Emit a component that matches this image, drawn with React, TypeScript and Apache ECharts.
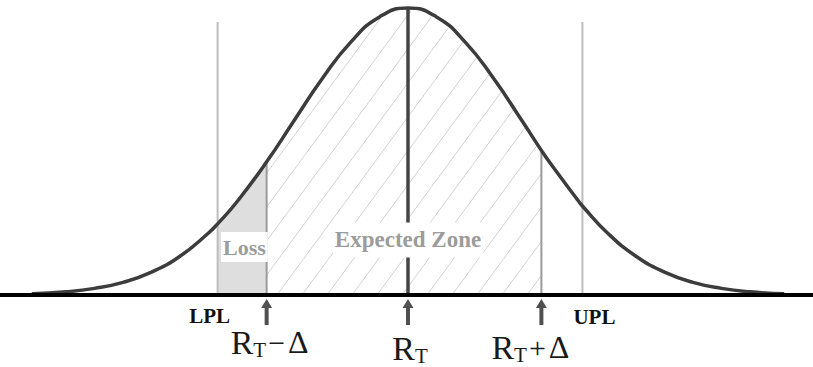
import React, { useEffect, useRef } from "react";
import * as echarts from "echarts";

// Normal curve: x in σ units from the target R_T, y relative to the peak
const curveX = [-3.3, -3.0, -2.75, -2.5, -2.25, -2.0, -1.75, -1.67, -1.5, -1.24, -1.0, -0.75, -0.5, -0.25, 0, 0.25, 0.5, 0.75, 1.0, 1.17, 1.25, 1.5, 1.53, 1.75, 2.0, 2.25, 2.5, 2.75, 3.0, 3.3];
const curveY = [0.004, 0.011, 0.023, 0.044, 0.08, 0.135, 0.216, 0.248, 0.325, 0.464, 0.607, 0.755, 0.882, 0.969, 1.0, 0.969, 0.882, 0.755, 0.607, 0.504, 0.458, 0.325, 0.31, 0.216, 0.135, 0.08, 0.044, 0.023, 0.011, 0.004];

// Markers on the x axis
const LPL = -1.67;
const RT_MINUS = -1.24;
const RT = 0;
const RT_PLUS = 1.17;
const UPL = 1.53;

const limitX = [LPL, UPL];
const limitLabels = ["LPL", "UPL"];
const limitTop = 0.951;

const targetX = [RT_MINUS, RT, RT_PLUS];
const targetOps = ["−", "", "+"];

const zoneLabels = ["Loss", "Expected Zone"];
const zoneX = [-1.435, 0];
const zoneY = [0.167, 0.192];

// ---- styles / layout (pixels) ----
const FONT = "'Liberation Serif', 'Times New Roman', Times, serif";
const limitLabelOffset = [
  [-8, 21],
  [12, 22.5],
];
const targetLabelOffset = [
  [3, 47.5],
  [2, 53.5],
  [-11, 52.5],
];
const zoneFont = [22, 23];
const zonePad = [
  [4, 2],
  [6, 2],
];

export default function App() {
  const ref = useRef<HTMLDivElement>(null);

  useEffect(() => {
    const chart = echarts.init(ref.current!, null, { renderer: "svg" });
    const curveData = curveX.map((x, i) => [x, curveY[i]]);
    const yAt = (x: number) => curveY[curveX.indexOf(x)];
    const lossData = curveData.filter((d) => d[0] >= LPL && d[0] <= RT_MINUS);

    const hatchRender = (_params: any, api: any) => {
      const pts = curveData.map((d) => api.coord(d));
      const curveAt = (px: number) => {
        for (let i = 0; i < pts.length - 1; i++) {
          if (px >= pts[i][0] && px <= pts[i + 1][0]) {
            const t = (px - pts[i][0]) / (pts[i + 1][0] - pts[i][0]);
            return pts[i][1] + t * (pts[i + 1][1] - pts[i][1]);
          }
        }
        return pts[0][1];
      };
      const [xL, y0] = api.coord([RT_MINUS, 0]);
      const [xR] = api.coord([RT_PLUS, 0]);
      const [cx] = api.coord([RT, 0]);
      const slope = 1.36;
      const spacing = 25;
      const children: any[] = [];
      for (let k = -20; k < 20; k++) {
        const c = cx - 6 + spacing * k;
        const t0 = Math.max(0, xL - c);
        const sx = c + t0;
        const sy = y0 - slope * t0;
        if (sx >= xR || sy <= curveAt(sx)) continue;
        let t = t0;
        while (true) {
          const nt = t + 0.5;
          const nx = c + nt;
          const ny = y0 - slope * nt;
          if (nx > xR || ny <= curveAt(nx) + 1) break;
          t = nt;
        }
        if (t - t0 < 1) continue;
        children.push({
          type: "line",
          shape: { x1: sx, y1: sy, x2: c + t, y2: y0 - slope * t },
          style: { stroke: "#d2d2d2", lineWidth: 1 },
        });
      }
      return { type: "group", children };
    };

    const vlineRender = (_params: any, api: any) => {
      const children: any[] = [];
      limitX.forEach((x) => {
        const [px, py0] = api.coord([x, 0]);
        const [, py1] = api.coord([x, limitTop]);
        children.push({
          type: "line",
          shape: { x1: px, y1: py0, x2: px, y2: py1 },
          style: { stroke: "#bdbdbd", lineWidth: 2 },
        });
      });
      targetX.forEach((x) => {
        const [px, py0] = api.coord([x, 0]);
        const [, py1] = api.coord([x, yAt(x)]);
        const center = x === RT;
        children.push({
          type: "line",
          shape: { x1: px, y1: py0, x2: px, y2: py1 },
          style: { stroke: center ? "#444444" : "#9a9a9a", lineWidth: center ? 3.5 : 2 },
        });
      });
      return { type: "group", children };
    };

    const labelRender = (_params: any, api: any) => {
      const children: any[] = [];
      // zone labels
      zoneLabels.forEach((txt, i) => {
        const [px, py] = api.coord([zoneX[i], zoneY[i]]);
        children.push({
          type: "text",
          x: px,
          y: py,
          style: {
            text: txt,
            fontFamily: FONT,
            fontWeight: "bold",
            fontSize: zoneFont[i],
            fill: "#9c9c9c",
            align: "center",
            verticalAlign: "middle",
            backgroundColor: "#ffffff",
            padding: zonePad[i],
          },
        });
      });
      // limit labels
      limitLabels.forEach((txt, i) => {
        const [px, py] = api.coord([limitX[i], 0]);
        children.push({
          type: "text",
          x: px + limitLabelOffset[i][0],
          y: py + limitLabelOffset[i][1],
          style: {
            text: txt,
            fontFamily: FONT,
            fontWeight: "bold",
            fontSize: 21,
            fill: "#111111",
            align: "center",
            verticalAlign: "middle",
          },
        });
      });
      // arrows + target labels
      targetX.forEach((x, i) => {
        const [px, py] = api.coord([x, 0]);
        children.push({
          type: "line",
          shape: { x1: px, y1: py + 30, x2: px, y2: py + 10 },
          style: { stroke: "#505050", lineWidth: 4 },
        });
        children.push({
          type: "polygon",
          shape: {
            points: [
              [px, py + 4],
              [px - 5.5, py + 13],
              [px + 5.5, py + 13],
            ],
          },
          style: { fill: "#505050" },
        });
        const op = targetOps[i];
        const text = "{r|R}{t|T}" + (op ? "{o|" + op + "}{d|Δ}" : "");
        children.push({
          type: "text",
          x: px + targetLabelOffset[i][0],
          y: py + targetLabelOffset[i][1],
          style: {
            text,
            align: "center",
            verticalAlign: "middle",
            fill: "#1a1a1a",
            fontFamily: FONT,
            rich: {
              r: { fontSize: 34, fontFamily: FONT, fill: "#1a1a1a" },
              t: {
                fontSize: 21,
                fontFamily: FONT,
                fill: "#1a1a1a",
                padding: [8, 0, -8, 0],
              },
              o: { fontSize: 30, fontFamily: FONT, fill: "#1a1a1a", padding: [0, 3, 0, 2] },
              d: { fontSize: 32, fontFamily: FONT, fill: "#1a1a1a" },
            },
          },
        });
      });
      return { type: "group", children };
    };

    chart.setOption({
      animation: false,
      grid: { left: 0, right: 0, top: 0, bottom: 0 },
      xAxis: {
        type: "value",
        min: -3.5789,
        max: 3.5526,
        z: 10,
        axisLine: { onZero: true, lineStyle: { color: "#000000", width: 4 } },
        axisTick: { show: false },
        axisLabel: { show: false },
        splitLine: { show: false },
      },
      yAxis: {
        type: "value",
        min: -0.2509,
        max: 1.0279,
        show: false,
        splitLine: { show: false },
      },
      series: [
        {
          type: "line",
          name: "Loss",
          data: lossData,
          smooth: true,
          symbol: "none",
          lineStyle: { width: 0 },
          areaStyle: { color: "#dedede", opacity: 1 },
          z: 1,
          silent: true,
        },
        {
          type: "custom",
          name: "hatch",
          data: [[0, 0]],
          renderItem: hatchRender,
          clip: false,
          z: 2,
          silent: true,
        },
        {
          type: "custom",
          name: "vlines",
          data: [[0, 0]],
          renderItem: vlineRender,
          clip: false,
          z: 3,
          silent: true,
        },
        {
          type: "line",
          name: "curve",
          data: curveData,
          smooth: true,
          symbol: "none",
          lineStyle: { color: "#3c3c3c", width: 3.5 },
          z: 4,
          silent: true,
        },
        {
          type: "custom",
          name: "labels",
          data: [[0, 0]],
          renderItem: labelRender,
          clip: false,
          z: 5,
          silent: true,
        },
      ],
    });
    return () => chart.dispose();
  }, []);

  return (
    <div
      ref={ref}
      style={{ position: "absolute", left: 0, top: 0, width: 813, height: 367, background: "#ffffff" }}
    />
  );
}
